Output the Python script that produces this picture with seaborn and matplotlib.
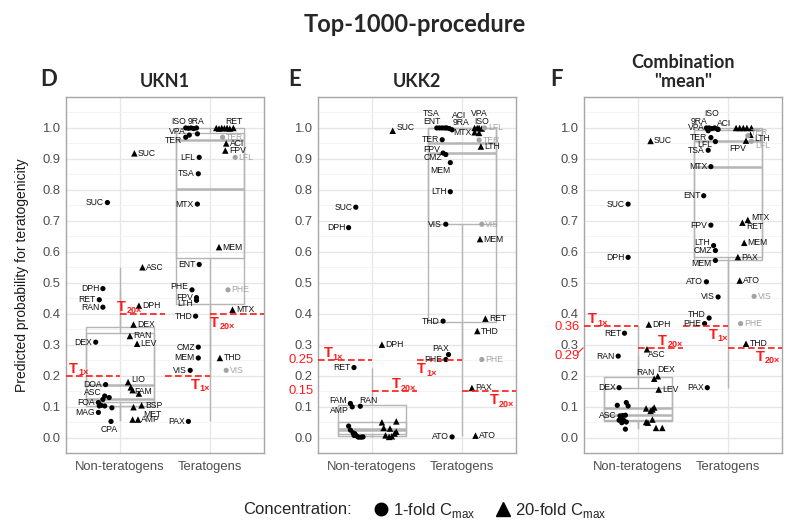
import numpy as np
import pandas as pd
import matplotlib
matplotlib.use("Agg")
import matplotlib.pyplot as plt
import matplotlib.transforms as mtrans
from matplotlib.lines import Line2D
import seaborn as sns

# ---------------- data ----------------
categories = ["Non-teratogens", "Teratogens"]
conc_levels = ["1-fold", "20-fold"]
yticks = [0.0, 0.1, 0.2, 0.3, 0.4, 0.5, 0.6, 0.7, 0.8, 0.9, 1.0]
panel_titles = ["UKN1", "UKK2", 'Combination\n"mean"']
panel_letters = ["D", "E", "F"]
thr_1x = [0.20, 0.25, 0.36]
thr_20x = [0.40, 0.15, 0.29]

# ---- UKN1 ----
ukn1_nt1_val = [0.759, 0.481, 0.445, 0.421, 0.308, 0.171, 0.134, 0.129, 0.123, 0.113, 0.104, 0.102, 0.096, 0.102, 0.081, 0.052]
ukn1_nt1_lab = ["SUC", "DPH", "RET", "RAN", "DEX", "DOA", "ASC", "", "", "FOA", "", "", "", "", "MAG", "CPA"]
ukn1_nt1_off = [-0.14, -0.19, -0.23, -0.19, -0.27, -0.16, -0.17, -0.12, -0.19, -0.24, -0.21, -0.17, -0.09, -0.23, -0.24, -0.10]
ukn1_nt1_pos = ["l", "l", "l", "l", "l", "l", "lu", "", "", "l", "", "", "", "", "l", "d"]

ukn1_nt20_val = [0.918, 0.550, 0.426, 0.365, 0.328, 0.303, 0.179, 0.162, 0.153, 0.142, 0.104, 0.098, 0.058, 0.058]
ukn1_nt20_lab = ["SUC", "ASC", "DPH", "DEX", "RAN", "LEV", "LIO", "FAM", "", "", "BSP", "MET", "", "AMP"]
ukn1_nt20_off = [0.16, 0.25, 0.21, 0.15, 0.11, 0.19, 0.09, 0.12, 0.14, 0.21, 0.24, 0.15, 0.14, 0.20]
ukn1_nt20_pos = ["r", "r", "r", "r", "r", "r", "ru", "rd", "", "", "r", "rdd", "", "r"]

ukn1_t1_val = [1.000, 0.999, 1.000, 0.998, 1.000, 0.977, 0.970, 0.981, 0.905, 0.852, 0.754, 0.559, 0.477, 0.452, 0.443, 0.392, 0.292, 0.257, 0.217, 0.052]
ukn1_t1_lab = ["ISO", "", "", "", "9RA", "VPA", "TER", "", "LFL", "TSA", "MTX", "ENT", "PHE", "FPV", "LTH", "THD", "CMZ", "MEM", "VIS", "PAX"]
ukn1_t1_off = [-0.27, -0.24, -0.21, -0.18, -0.15, -0.23, -0.27, -0.14, -0.12, -0.13, -0.14, -0.12, -0.20, -0.15, -0.15, -0.16, -0.13, -0.13, -0.22, -0.24]
ukn1_t1_pos = ["ul", "", "", "", "u", "lu", "ld", "", "l", "l", "l", "l", "lu", "l", "ld", "l", "l", "l", "l", "l"]

ukn1_t20_val = [1.000, 0.998, 1.000, 0.999, 1.000, 0.998, 1.000, 0.970, 0.950, 0.927, 0.905, 0.615, 0.477, 0.413, 0.257, 0.217]
ukn1_t20_lab = ["", "", "", "", "", "", "RET", "TER", "ACI", "FPV", "LFL", "MEM", "PHE", "MTX", "THD", "VIS"]
ukn1_t20_off = [0.07, 0.10, 0.13, 0.16, 0.19, 0.22, 0.26, 0.14, 0.18, 0.17, 0.28, 0.10, 0.20, 0.25, 0.11, 0.18]
ukn1_t20_pos = ["", "", "", "", "", "", "u", "r", "r", "r", "r", "r", "r", "r", "r", "r"]
ukn1_t20_grey = [0, 0, 0, 0, 0, 0, 0, 1, 0, 0, 1, 0, 1, 0, 0, 1]

# ---- UKK2 ----
ukk2_nt1_val = [0.744, 0.678, 0.226, 0.110, 0.099, 0.101, 0.037, 0.024, 0.015, 0.012, 0.005, 0.001, 0.001, 0.002, 0.007]
ukk2_nt1_lab = ["SUC", "DPH", "RET", "FAM", "AMP", "RAN", "", "", "", "", "", "", "", "", ""]
ukk2_nt1_off = [-0.18, -0.26, -0.20, -0.24, -0.22, -0.13, -0.26, -0.24, -0.21, -0.19, -0.17, -0.15, -0.12, -0.10, -0.20]
ukk2_nt1_pos = ["l", "l", "l", "lu", "ld", "ur", "", "", "", "", "", "", "", "", ""]

ukk2_nt20_val = [0.991, 0.300, 0.049, 0.052, 0.031, 0.029, 0.007, 0.002, 0.004, 0.013, 0.019]
ukk2_nt20_lab = ["SUC", "DPH", "", "", "", "", "", "", "", "", ""]
ukk2_nt20_off = [0.23, 0.11, 0.11, 0.27, 0.13, 0.20, 0.15, 0.19, 0.22, 0.25, 0.27]
ukk2_nt20_pos = ["ru", "r", "", "", "", "", "", "", "", "", ""]

ukk2_t1_val = [1.000, 1.000, 1.000, 1.000, 1.000, 0.998, 0.994, 0.962, 0.919, 0.914, 0.888, 0.794, 0.689, 0.376, 0.268, 0.252, 0.002]
ukk2_t1_lab = ["TSA", "ENT", "", "", "", "9RA", "ACI", "TER", "FPV", "CMZ", "MEM", "LTH", "VIS", "THD", "PAX", "PHE", "ATO"]
ukk2_t1_off = [-0.28, -0.25, -0.22, -0.19, -0.17, -0.14, -0.11, -0.22, -0.21, -0.18, -0.13, -0.13, -0.18, -0.21, -0.15, -0.18, -0.11]
ukk2_t1_pos = ["uul", "ul", "", "", "", "urr", "uur", "l", "lu", "ld", "dl", "l", "l", "l", "ul", "l", "l"]

ukk2_t20_val = [1.000, 1.000, 1.000, 0.998, 0.986, 0.984, 1.000, 0.961, 0.940, 0.689, 0.641, 0.384, 0.344, 0.252, 0.160, 0.006]
ukk2_t20_lab = ["", "", "VPA", "ISO", "MTX", "", "LFL", "TER", "LTH", "VIS", "MEM", "RET", "THD", "PHE", "PAX", "ATO"]
ukk2_t20_off = [0.14, 0.17, 0.19, 0.22, 0.14, 0.19, 0.25, 0.19, 0.21, 0.22, 0.20, 0.26, 0.17, 0.22, 0.11, 0.15]
ukk2_t20_pos = ["", "", "uu", "u", "l", "", "r", "r", "r", "r", "r", "r", "r", "r", "r", "r"]
ukk2_t20_grey = [0, 0, 0, 0, 0, 0, 1, 1, 0, 1, 0, 0, 0, 1, 0, 0]

# ---- Combination "mean" ----
comb_nt1_val = [0.754, 0.582, 0.337, 0.263, 0.161, 0.104, 0.113, 0.102, 0.070, 0.071, 0.072, 0.061, 0.056, 0.050, 0.056, 0.027, 0.048]
comb_nt1_lab = ["SUC", "DPH", "RET", "RAN", "DEX", "", "", "", "ASC", "", "", "", "", "", "", "", ""]
comb_nt1_off = [-0.11, -0.11, -0.15, -0.22, -0.21, -0.23, -0.13, -0.11, -0.20, -0.17, -0.14, -0.19, -0.16, -0.13, -0.21, -0.14, -0.18]
comb_nt1_pos = ["l", "l", "l", "l", "l", "", "", "", "l", "", "", "", "", "", "", "", ""]

comb_nt20_val = [0.958, 0.365, 0.285, 0.190, 0.198, 0.155, 0.094, 0.086, 0.097, 0.091, 0.050, 0.048, 0.058, 0.031, 0.031]
comb_nt20_lab = ["SUC", "DPH", "ASC", "RAN", "DEX", "LEV", "", "", "", "", "", "", "", "", ""]
comb_nt20_off = [0.14, 0.12, 0.10, 0.18, 0.22, 0.23, 0.09, 0.14, 0.18, 0.16, 0.09, 0.11, 0.16, 0.20, 0.27]
comb_nt20_pos = ["r", "r", "dr", "ul", "ur", "r", "", "", "", "", "", "", "", "", ""]

comb_t1_val = [1.000, 1.000, 0.998, 1.000, 0.997, 0.995, 0.991, 0.969, 0.956, 0.928, 0.875, 0.781, 0.686, 0.620, 0.604, 0.572, 0.503, 0.454, 0.386, 0.368, 0.161]
comb_t1_lab = ["9RA", "", "ISO", "", "", "ACI", "VPA", "TER", "LFL", "TSA", "MTX", "ENT", "FPV", "LTH", "CMZ", "MEM", "ATO", "VIS", "THD", "PHE", "PAX"]
comb_t1_off = [-0.24, -0.21, -0.18, -0.15, -0.12, -0.11, -0.22, -0.19, -0.14, -0.22, -0.19, -0.27, -0.19, -0.16, -0.14, -0.14, -0.24, -0.11, -0.21, -0.26, -0.23]
comb_t1_pos = ["ul", "", "uu", "", "", "ur", "lu", "l", "ld", "l", "l", "l", "l", "lu", "l", "ld", "l", "l", "lu", "l", "l"]

comb_t20_val = [1.000, 1.000, 1.000, 1.000, 1.000, 0.978, 0.975, 0.959, 0.957, 0.703, 0.694, 0.629, 0.583, 0.507, 0.456, 0.368, 0.303]
comb_t20_lab = ["", "", "", "", "", "LTH", "TER", "FPV", "LFL", "MTX", "RET", "MEM", "PAX", "ATO", "VIS", "PHE", "THD"]
comb_t20_off = [0.09, 0.13, 0.17, 0.21, 0.26, 0.25, 0.22, 0.20, 0.26, 0.22, 0.16, 0.18, 0.11, 0.13, 0.29, 0.14, 0.20]
comb_t20_pos = ["", "", "", "", "", "rd", "ru", "dl", "rd", "ru", "rd", "r", "r", "r", "r", "r", "r"]
comb_t20_grey = [0, 0, 0, 0, 0, 0, 1, 0, 1, 0, 0, 0, 0, 0, 1, 1, 0]


def build(groups):
    rows = []
    for cat, conc, val, lab, off, pos, grey in groups:
        for i, v in enumerate(val):
            rows.append(dict(cat=cat, conc=conc, val=v, lab=lab[i], off=off[i],
                             pos=pos[i], grey=(grey[i] if grey else 0)))
    df = pd.DataFrame(rows)
    df["xpos"] = df["cat"].map({c: i for i, c in enumerate(categories)}) + df["off"]
    df["shape"] = np.where((df["conc"] == "20-fold") & (df["grey"] == 0), "triangle", "circle")
    df["tone"] = np.where(df["grey"] == 1, "grey", "black")
    return df


NT, T = categories
C1, C20 = conc_levels
dfs = [
    build([(NT, C1, ukn1_nt1_val, ukn1_nt1_lab, ukn1_nt1_off, ukn1_nt1_pos, None),
           (NT, C20, ukn1_nt20_val, ukn1_nt20_lab, ukn1_nt20_off, ukn1_nt20_pos, None),
           (T, C1, ukn1_t1_val, ukn1_t1_lab, ukn1_t1_off, ukn1_t1_pos, None),
           (T, C20, ukn1_t20_val, ukn1_t20_lab, ukn1_t20_off, ukn1_t20_pos, ukn1_t20_grey)]),
    build([(NT, C1, ukk2_nt1_val, ukk2_nt1_lab, ukk2_nt1_off, ukk2_nt1_pos, None),
           (NT, C20, ukk2_nt20_val, ukk2_nt20_lab, ukk2_nt20_off, ukk2_nt20_pos, None),
           (T, C1, ukk2_t1_val, ukk2_t1_lab, ukk2_t1_off, ukk2_t1_pos, None),
           (T, C20, ukk2_t20_val, ukk2_t20_lab, ukk2_t20_off, ukk2_t20_pos, ukk2_t20_grey)]),
    build([(NT, C1, comb_nt1_val, comb_nt1_lab, comb_nt1_off, comb_nt1_pos, None),
           (NT, C20, comb_nt20_val, comb_nt20_lab, comb_nt20_off, comb_nt20_pos, None),
           (T, C1, comb_t1_val, comb_t1_lab, comb_t1_off, comb_t1_pos, None),
           (T, C20, comb_t20_val, comb_t20_lab, comb_t20_off, comb_t20_pos, comb_t20_grey)]),
]

# ---------------- style ----------------
sns.set_theme(style="white")
plt.rcParams["font.family"] = ["Liberation Sans", "DejaVu Sans"]

PLACE = {
    "l": (-2.5, 0, "right"), "r": (2.5, 0, "left"),
    "lu": (-2.5, 2.3, "right"), "ld": (-2.5, -2.3, "right"),
    "ru": (2.5, 2.0, "left"), "rd": (2.5, -3.0, "left"),
    "rdd": (7, -5.5, "left"),
    "u": (0, 5, "center"), "uu": (0, 10.5, "center"),
    "ul": (0.5, 4.5, "right"), "ur": (-0.5, 4.5, "left"),
    "urr": (2.0, 4.5, "left"),
    "uul": (2, 10.5, "right"), "uur": (0, 10.5, "left"),
    "dl": (0, -5.5, "right"), "dr": (1, -4, "left"),
    "d": (-1, -5.5, "center"),
}
# threshold label placement: (x, ha, above) for T1 NT, T20 NT, T1 T, T20 T
THR_LAB = [
    [(-0.57, "left", True), (-0.03, "left", True), (1.0, "right", False), (1.0, "left", False)],
    [(-0.54, "left", True), (0.49, "right", True), (0.5, "left", False), (1.58, "right", False)],
    [(-0.56, "left", True), (0.5, "right", True), (1.0, "right", False), (1.58, "right", False)],
]
RED_YLAB = [[], [(0.25, "0.25", 0.25), (0.15, "0.15", 0.15)], [(0.357, "0.36", 0.357), (0.29, "0.29", 0.262)]]

RED = "#ff1a1a"
GREY_PT = "#a3a3a3"
BOXC = "#b5b5b5"
XL = (-0.6, 1.6)
T_SIZE, SUB_SIZE = 10.5, 6.5


def thr_label(ax, x, y, sub, ha, above):
    wT = 0.611 * T_SIZE
    wS = (0.556 * (len(sub) - 1) + 0.584) * SUB_SIZE
    total = wT + 0.3 + wS
    x0 = 0.0 if ha == "left" else -total
    base = 2.0 if above else -9.3
    kw = dict(textcoords="offset points", ha="left", va="baseline", color=RED,
              fontweight="bold", zorder=6, annotation_clip=False)
    ax.annotate("T", (x, y), xytext=(x0, base), fontsize=T_SIZE, **kw)
    ax.annotate(sub, (x, y), xytext=(x0 + wT + 0.3, base - 1.8), fontsize=SUB_SIZE, **kw)


fig = plt.figure(figsize=(8.0, 5.27), dpi=100)
lefts = [66, 318, 584]

for k in range(3):
    ax = fig.add_axes([lefts[k] / 800, (527 - 453) / 527, 198 / 800, 356 / 527])
    df = dfs[k]
    sns.boxplot(data=df, x="cat", y="val", hue="conc", order=categories, hue_order=conc_levels,
                dodge=False, fill=False, palette={C1: BOXC, C20: BOXC}, width=0.75,
                linewidth=1.0, showfliers=False, showcaps=False, legend=False, ax=ax,
                medianprops=dict(linewidth=1.8))
    sns.scatterplot(data=df, x="xpos", y="val", style="shape",
                    markers={"circle": "o", "triangle": "^"},
                    hue="tone", palette={"black": "black", "grey": GREY_PT},
                    size="shape", sizes={"circle": 14, "triangle": 22},
                    linewidth=0, legend=False, ax=ax, zorder=3)
    for _, r in df.iterrows():
        if r["lab"]:
            dx, dy, ha = PLACE[r["pos"]]
            ax.annotate(r["lab"], (r["xpos"], r["val"]), xytext=(dx, dy), textcoords="offset points",
                        ha=ha, va="center", fontsize=6.2,
                        color=(GREY_PT if r["grey"] else "#111111"), zorder=5)

    # thresholds
    t1, t20 = thr_1x[k], thr_20x[k]
    segs = [(t1, XL[0], 0.0, "1\u00d7"), (t20, 0.0, 0.5, "20\u00d7"),
            (t1, 0.5, 1.0, "1\u00d7"), (t20, 1.0, XL[1], "20\u00d7")]
    for (ty, x0, x1, sub), (lx, lha, above) in zip(segs, THR_LAB[k]):
        ax.hlines(ty, x0, x1, colors=RED, linestyles=(0, (4, 2)), linewidth=1.2, zorder=4)
        thr_label(ax, lx, ty, sub, lha, above)

    trans = mtrans.blended_transform_factory(ax.transAxes, ax.transData)
    for ty, txt, ly in RED_YLAB[k]:
        ax.text(-0.022, ly, txt, transform=trans, ha="right", va="center", fontsize=9.4,
                color=RED, clip_on=False)
        if abs(ly - ty) > 1e-3:
            ax.plot([-0.004, -0.03], [ty, ly + 0.012], transform=trans, color=RED, lw=0.8,
                    clip_on=False)

    ax.set_xlim(*XL)
    ax.set_ylim(-0.05, 1.1)
    ax.set_xticks([0, 1])
    ax.set_xticklabels(categories)
    ax.set_yticks(yticks)
    ax.set_yticklabels([f"{t:.1f}" for t in yticks])
    ax.set_yticks(np.arange(-0.05, 1.1, 0.1), minor=True)
    ax.set_axisbelow(True)
    ax.grid(which="major", color="#e6e6e6", linewidth=0.9)
    ax.grid(which="minor", axis="y", color="#f2f2f2", linewidth=0.6)
    ax.tick_params(axis="both", which="major", length=2.5, width=0.8, color="#666666",
                   labelsize=9.4, labelcolor="#4d4d4d", pad=1.5)
    ax.tick_params(axis="x", which="major", pad=3)
    ax.tick_params(which="minor", length=0)
    for sp in ax.spines.values():
        sp.set_color("#a6a6a6")
        sp.set_linewidth(1.0)
    ax.set_xlabel("")
    ax.set_ylabel("")
    ax.set_title(panel_titles[k], fontsize=13, fontweight="bold", family=["Lato", "DejaVu Sans"],
                 pad=7, linespacing=1.15)
    fig.text([49, 295, 556][k] / 800, 1 - 80 / 527, panel_letters[k], fontsize=16,
             fontweight="bold", family=["Lato", "DejaVu Sans"], ha="center", va="center")

fig.text(22 / 800, 1 - 275 / 527, "Predicted probability for teratogenicity", rotation=90,
         ha="center", va="center", fontsize=10, color="#1a1a1a")
fig.text(415 / 800, 1 - 24 / 527, "Top-1000-procedure", fontsize=17, fontweight="bold",
         family=["Lato", "DejaVu Sans"], ha="center", va="center")

fig.text(243 / 800, 1 - 510 / 527, "Concentration:", fontsize=12, ha="left", va="center")
handles = [Line2D([], [], marker="o", color="black", linestyle="", markersize=9),
           Line2D([], [], marker="^", color="black", linestyle="", markersize=10)]
labels = [r"1-fold C$_{\mathregular{max}}$", r"20-fold C$_{\mathregular{max}}$"]
fig.legend(handles, labels, loc="center left", bbox_to_anchor=(366 / 800, 1 - 510 / 527),
           ncol=2, frameon=False, fontsize=12, handletextpad=0.2, columnspacing=1.2,
           handlelength=1.0, borderaxespad=0)

fig.savefig("out.png", dpi=100)
